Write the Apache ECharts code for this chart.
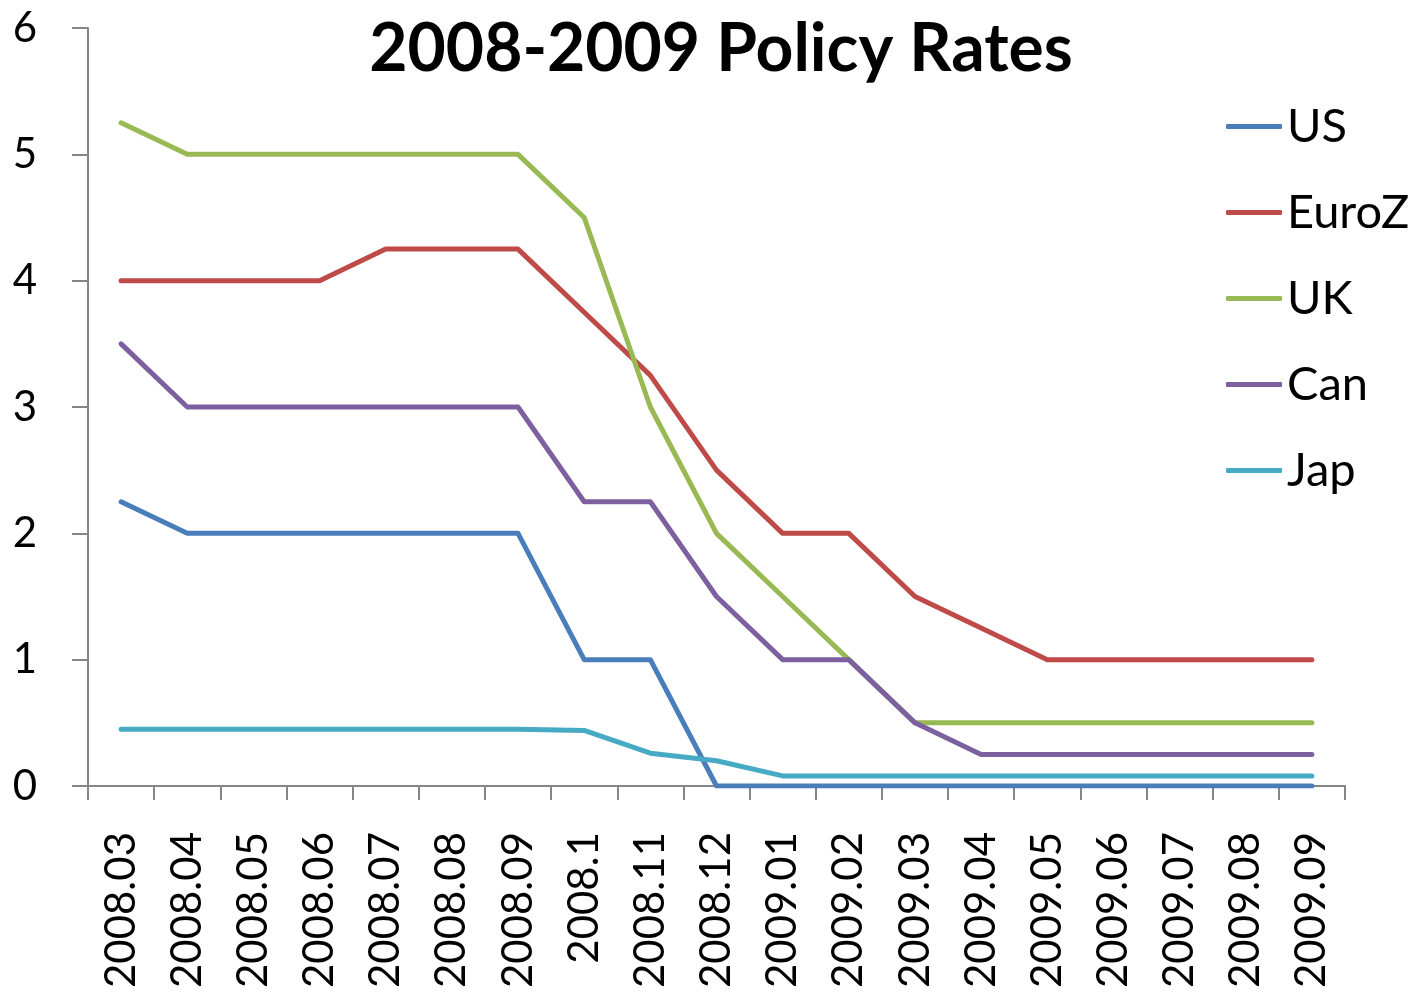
<!DOCTYPE html>
<html>
<head>
<meta charset="utf-8">
<script src="https://cdn.jsdelivr.net/npm/echarts@6/dist/echarts.min.js"></script>
<style>
  html, body { margin: 0; padding: 0; background: #fff; }
  #chart { width: 1418px; height: 993px; }
</style>
</head>
<body>
<div id="chart"></div>
<script>
// months on the category axis
const months = [
  '2008.03', '2008.04', '2008.05', '2008.06', '2008.07', '2008.08', '2008.09',
  '2008.1', '2008.11', '2008.12', '2009.01', '2009.02', '2009.03', '2009.04',
  '2009.05', '2009.06', '2009.07', '2009.08', '2009.09'
]

// policy rates
const us = [2.25, 2, 2, 2, 2, 2, 2, 1, 1, 0, 0, 0, 0, 0, 0, 0, 0, 0, 0]
const euroZ = [4, 4, 4, 4, 4.25, 4.25, 4.25, 3.75, 3.25, 2.5, 2, 2, 1.5, 1.25, 1, 1, 1, 1, 1]
const uk = [5.25, 5, 5, 5, 5, 5, 5, 4.5, 3, 2, 1.5, 1, 0.5, 0.5, 0.5, 0.5, 0.5, 0.5, 0.5]
const can = [3.5, 3, 3, 3, 3, 3, 3, 2.25, 2.25, 1.5, 1, 1, 0.5, 0.25, 0.25, 0.25, 0.25, 0.25, 0.25]
const jap = [0.45, 0.45, 0.45, 0.45, 0.45, 0.45, 0.45, 0.44, 0.26, 0.2, 0.08, 0.08, 0.08, 0.08, 0.08, 0.08, 0.08, 0.08, 0.08]

const seriesNames = ['US', 'EuroZ', 'UK', 'Can', 'Jap']
const seriesData = [us, euroZ, uk, can, jap]
const colors = ['#4A7EBB', '#BE4B48', '#98B954', '#7D60A0', '#46AAC5']

const font = 'Lato, "DejaVu Sans", sans-serif'
const axisGrey = '#868686'

const chart = echarts.init(document.getElementById('chart'))

chart.setOption({
  animation: false,
  title: {
    text: '2008-2009 Policy Rates',
    left: 716,
    textAlign: 'center',
    top: 12,
    textStyle: { fontFamily: font, fontSize: 66, fontWeight: 'bold', color: '#000' }
  },
  legend: {
    orient: 'vertical',
    left: 1226,
    top: 103,
    padding: 0,
    itemWidth: 56,
    itemHeight: 5,
    itemGap: 39,
    itemTextGap: 4,
    textStyle: { fontFamily: font, fontSize: 47, color: '#000' },
    data: seriesNames.map((name) => ({ name: name, icon: 'roundRect' }))
  },
  grid: { left: 88, right: 73, top: 28, bottom: 207 },
  xAxis: {
    type: 'category',
    data: months,
    boundaryGap: true,
    axisLine: { lineStyle: { color: axisGrey, width: 2 } },
    axisTick: { show: true, length: 14, lineStyle: { color: axisGrey, width: 2 } },
    axisLabel: {
      interval: 0,
      rotate: 90,
      margin: 46,
      color: '#000',
      fontFamily: font,
      fontSize: 42
    },
    splitLine: { show: false }
  },
  yAxis: {
    type: 'value',
    min: 0,
    max: 6,
    interval: 1,
    axisLine: { show: true, lineStyle: { color: axisGrey, width: 2 } },
    axisTick: { show: true, length: 16, lineStyle: { color: axisGrey, width: 2 } },
    axisLabel: { margin: 51, color: '#000', fontFamily: font, fontSize: 42 },
    splitLine: { show: false }
  },
  series: seriesNames.map((name, i) => ({
    name: name,
    type: 'line',
    data: seriesData[i],
    symbol: 'none',
    itemStyle: { color: colors[i] },
    lineStyle: { width: 5, color: colors[i], cap: 'round', join: 'round' }
  }))
})
</script>
</body>
</html>
